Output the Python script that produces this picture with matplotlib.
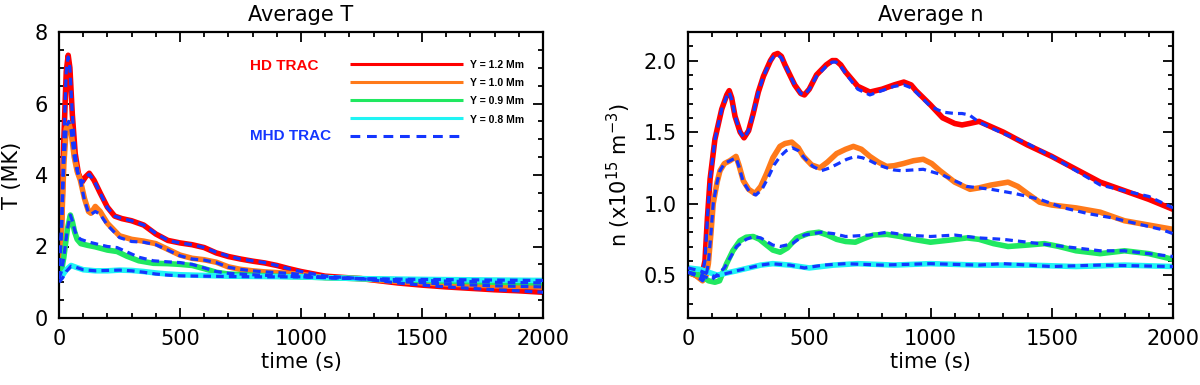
import matplotlib
matplotlib.use("Agg")
import matplotlib.pyplot as plt
from matplotlib.ticker import MultipleLocator

# ---------------- data: Average T (MK) ----------------
T_red_t = [0, 10, 20, 30, 38, 45, 55, 67, 80, 95, 110, 125, 145, 170, 200, 230, 260, 300, 350, 400, 450, 500, 550, 600, 650, 700, 750, 800, 850, 900, 950, 1000, 1100, 1250, 1400, 1500, 1600, 1700, 1800, 1900, 2000]
T_red = [1.1, 2.5, 5.0, 6.9, 7.35, 7.0, 5.7, 4.6, 4.05, 3.8, 3.95, 4.05, 3.85, 3.5, 3.1, 2.85, 2.78, 2.72, 2.6, 2.35, 2.17, 2.1, 2.05, 1.97, 1.82, 1.72, 1.65, 1.59, 1.54, 1.47, 1.38, 1.3, 1.17, 1.1, 0.98, 0.92, 0.87, 0.83, 0.79, 0.76, 0.72]
T_red_mhd = [1.1, 2.5, 5.0, 6.9, 7.3, 7.0, 5.7, 4.6, 4.0, 3.78, 3.93, 4.02, 3.85, 3.5, 3.08, 2.85, 2.78, 2.72, 2.6, 2.37, 2.17, 2.1, 2.05, 1.97, 1.84, 1.73, 1.65, 1.6, 1.55, 1.47, 1.38, 1.3, 1.17, 1.1, 0.98, 0.92, 0.87, 0.83, 0.79, 0.76, 0.72]

T_org_t = [0, 10, 20, 30, 40, 50, 63, 75, 88, 105, 122, 132, 150, 170, 200, 250, 300, 350, 400, 450, 500, 550, 600, 650, 700, 750, 800, 850, 900, 950, 1000, 1100, 1250, 1400, 1600, 1800, 2000]
T_org = [1.1, 2.4, 4.3, 5.3, 5.45, 5.2, 4.5, 4.1, 3.86, 3.35, 2.98, 2.93, 3.12, 2.98, 2.65, 2.3, 2.2, 2.15, 2.08, 1.92, 1.76, 1.67, 1.63, 1.56, 1.43, 1.36, 1.32, 1.29, 1.27, 1.25, 1.22, 1.13, 1.1, 1.02, 0.95, 0.9, 0.87]
T_org_mhd = [1.1, 2.4, 4.3, 5.35, 5.5, 5.25, 4.5, 4.1, 3.86, 3.3, 2.95, 2.9, 2.98, 2.9, 2.6, 2.25, 2.14, 2.12, 2.05, 1.9, 1.74, 1.65, 1.62, 1.55, 1.42, 1.36, 1.32, 1.29, 1.27, 1.25, 1.22, 1.13, 1.1, 1.02, 0.95, 0.9, 0.87]

T_grn_t = [0, 10, 20, 35, 47, 55, 65, 75, 90, 120, 150, 200, 240, 280, 330, 390, 450, 500, 550, 600, 650, 700, 800, 900, 1000, 1100, 1250, 1500, 1800, 2000]
T_grn = [1.1, 1.3, 1.7, 2.5, 2.88, 2.7, 2.4, 2.2, 2.08, 2.03, 1.99, 1.9, 1.86, 1.73, 1.6, 1.53, 1.52, 1.5, 1.47, 1.38, 1.28, 1.23, 1.2, 1.17, 1.15, 1.13, 1.1, 1.05, 1.0, 0.98]
T_grn_mhd = [1.1, 1.3, 1.7, 2.5, 2.88, 2.72, 2.45, 2.28, 2.2, 2.13, 2.08, 2.0, 1.97, 1.85, 1.7, 1.6, 1.57, 1.55, 1.5, 1.4, 1.3, 1.25, 1.21, 1.18, 1.15, 1.13, 1.1, 1.05, 1.0, 0.98]

T_cyn_t = [0, 15, 30, 50, 70, 100, 150, 200, 250, 300, 350, 400, 450, 500, 600, 700, 850, 1000, 1250, 1500, 2000]
T_cyn = [1.1, 1.2, 1.35, 1.47, 1.42, 1.35, 1.32, 1.32, 1.34, 1.33, 1.3, 1.26, 1.23, 1.21, 1.19, 1.17, 1.16, 1.15, 1.1, 1.08, 1.05]
T_cyn_mhd = [1.0, 1.12, 1.3, 1.45, 1.42, 1.35, 1.32, 1.33, 1.34, 1.32, 1.28, 1.23, 1.2, 1.18, 1.17, 1.16, 1.15, 1.15, 1.1, 1.08, 1.05]

# ---------------- data: Average n (1e15 m^-3) ----------------
n_red_t = [0, 30, 55, 70, 80, 91, 111, 139, 160, 170, 180, 194, 215, 231, 250, 269, 290, 311, 340, 355, 370, 385, 400, 440, 465, 480, 500, 530, 570, 595, 610, 630, 650, 700, 750, 800, 850, 890, 920, 940, 1000, 1050, 1100, 1130, 1160, 1200, 1300, 1400, 1500, 1600, 1700, 1800, 1900, 2000]
n_red = [0.52, 0.5, 0.48, 0.6, 0.9, 1.17, 1.45, 1.66, 1.76, 1.79, 1.74, 1.61, 1.5, 1.46, 1.51, 1.63, 1.78, 1.89, 2.0, 2.04, 2.05, 2.03, 1.97, 1.83, 1.77, 1.76, 1.8, 1.9, 1.97, 2.0, 2.0, 1.97, 1.92, 1.82, 1.78, 1.8, 1.83, 1.85, 1.83, 1.79, 1.69, 1.6, 1.56, 1.55, 1.56, 1.575, 1.5, 1.41, 1.33, 1.24, 1.15, 1.09, 1.03, 0.96]
n_red_mhd = [0.52, 0.5, 0.48, 0.6, 0.9, 1.17, 1.45, 1.66, 1.75, 1.78, 1.73, 1.61, 1.5, 1.46, 1.51, 1.63, 1.78, 1.89, 2.0, 2.03, 2.04, 2.02, 1.97, 1.83, 1.77, 1.76, 1.8, 1.89, 1.96, 1.99, 1.99, 1.96, 1.91, 1.8, 1.76, 1.79, 1.82, 1.83, 1.81, 1.78, 1.68, 1.64, 1.63, 1.63, 1.62, 1.57, 1.49, 1.42, 1.33, 1.23, 1.13, 1.09, 1.05, 0.97]

n_org_t = [0, 30, 60, 75, 84, 95, 104, 120, 132, 150, 173, 198, 210, 228, 250, 276, 300, 324, 350, 379, 400, 428, 455, 476, 510, 544, 575, 613, 650, 682, 715, 750, 785, 819, 850, 888, 930, 970, 1005, 1039, 1100, 1163, 1200, 1250, 1320, 1360, 1400, 1450, 1500, 1600, 1700, 1800, 1900, 2000]
n_org = [0.52, 0.5, 0.46, 0.5, 0.58, 0.8, 1.0, 1.15, 1.23, 1.28, 1.3, 1.33, 1.27, 1.16, 1.1, 1.07, 1.12, 1.21, 1.32, 1.4, 1.42, 1.43, 1.39, 1.33, 1.27, 1.25, 1.29, 1.35, 1.38, 1.4, 1.38, 1.33, 1.29, 1.26, 1.265, 1.28, 1.3, 1.31, 1.28, 1.23, 1.15, 1.1, 1.11, 1.13, 1.15, 1.12, 1.07, 1.01, 0.99, 0.97, 0.94, 0.88, 0.85, 0.82]
n_org_mhd_t = [0, 30, 60, 75, 84, 95, 104, 120, 132, 150, 173, 198, 210, 228, 255, 280, 305, 330, 355, 380, 405, 430, 455, 480, 515, 550, 585, 620, 655, 690, 720, 750, 785, 820, 850, 880, 925, 970, 1010, 1050, 1150, 1250, 1350, 1450, 1550, 1650, 1750, 1850, 1950, 2000]
n_org_mhd = [0.52, 0.5, 0.46, 0.5, 0.58, 0.8, 1.0, 1.15, 1.23, 1.28, 1.3, 1.32, 1.26, 1.15, 1.08, 1.06, 1.1, 1.18, 1.27, 1.33, 1.37, 1.39, 1.37, 1.32, 1.26, 1.23, 1.25, 1.28, 1.31, 1.33, 1.32, 1.3, 1.27, 1.25, 1.235, 1.23, 1.235, 1.24, 1.22, 1.2, 1.12, 1.1, 1.07, 1.03, 0.97, 0.93, 0.9, 0.86, 0.82, 0.79]

n_grn_t = [0, 50, 85, 111, 130, 159, 185, 214, 240, 269, 295, 324, 350, 380, 410, 448, 495, 540, 575, 613, 650, 690, 725, 764, 820, 875, 929, 1000, 1080, 1150, 1200, 1260, 1320, 1400, 1470, 1530, 1600, 1700, 1800, 1900, 2000]
n_grn = [0.52, 0.5, 0.46, 0.45, 0.46, 0.58, 0.67, 0.74, 0.765, 0.77, 0.75, 0.71, 0.675, 0.66, 0.69, 0.76, 0.79, 0.8, 0.78, 0.75, 0.735, 0.73, 0.755, 0.78, 0.785, 0.77, 0.75, 0.73, 0.745, 0.76, 0.75, 0.72, 0.7, 0.71, 0.72, 0.7, 0.67, 0.65, 0.67, 0.65, 0.61]
n_grn_mhd_t = [0, 50, 100, 150, 200, 240, 270, 300, 320, 350, 380, 430, 480, 550, 600, 650, 750, 820, 900, 1000, 1100, 1200, 1300, 1400, 1500, 1600, 1700, 1800, 1900, 2000]
n_grn_mhd = [0.52, 0.5, 0.47, 0.55, 0.7, 0.75, 0.77, 0.76, 0.74, 0.71, 0.7, 0.72, 0.78, 0.8, 0.79, 0.77, 0.78, 0.8, 0.78, 0.77, 0.78, 0.76, 0.75, 0.73, 0.71, 0.69, 0.67, 0.67, 0.65, 0.63]

n_cyn_t = [0, 50, 120, 200, 300, 350, 420, 500, 600, 700, 850, 1000, 1200, 1400, 1600, 1800, 2000]
n_cyn = [0.55, 0.54, 0.5, 0.53, 0.57, 0.58, 0.57, 0.55, 0.57, 0.58, 0.57, 0.58, 0.57, 0.57, 0.56, 0.57, 0.56]
n_cyn_mhd_t = [0, 50, 110, 200, 300, 340, 420, 480, 560, 650, 800, 1000, 1200, 1300, 1500, 1700, 2000]
n_cyn_mhd = [0.55, 0.53, 0.49, 0.53, 0.57, 0.58, 0.57, 0.55, 0.57, 0.58, 0.57, 0.58, 0.57, 0.58, 0.56, 0.57, 0.56]

heights = ["Y = 1.2 Mm", "Y = 1.0 Mm", "Y = 0.9 Mm", "Y = 0.8 Mm"]
colors = ["#ff0000", "#ff7a1a", "#20e860", "#20f4f4"]
blue = "#1436ff"

plt.rcParams['font.family'] = ['DejaVu Sans']
fig = plt.figure(figsize=(12, 3.85), dpi=100)
axT = fig.add_axes([59/1200, 67/385, 484/1200, 286/385])
axN = fig.add_axes([688/1200, 67/385, 485/1200, 286/385])

SW = 4.0
DW = 2.3
DASH = (2.4, 1.6)

T_sets = [(T_red_t, T_red, T_red_mhd), (T_org_t, T_org, T_org_mhd),
          (T_grn_t, T_grn, T_grn_mhd), (T_cyn_t, T_cyn, T_cyn_mhd)]
for (tt, hd, _), c in zip(T_sets, colors):
    axT.plot(tt, hd, color=c, lw=SW, solid_capstyle='butt', solid_joinstyle='round', zorder=2)
for (tt, _, mhd) in T_sets:
    axT.plot(tt, mhd, color=blue, lw=DW, dashes=DASH, zorder=3)

N_sets = [(n_red_t, n_red, n_red_t, n_red_mhd), (n_org_t, n_org, n_org_mhd_t, n_org_mhd),
          (n_grn_t, n_grn, n_grn_mhd_t, n_grn_mhd), (n_cyn_t, n_cyn, n_cyn_mhd_t, n_cyn_mhd)]
for (t1, hd, t2, mhd), c in zip(N_sets, colors):
    axN.plot(t1, hd, color=c, lw=SW, solid_capstyle='butt', solid_joinstyle='round', zorder=2)
for (t1, hd, t2, mhd) in N_sets:
    axN.plot(t2, mhd, color=blue, lw=DW, dashes=DASH, zorder=3)

FS = 15
for ax in (axT, axN):
    ax.set_xlim(0, 2000)
    ax.xaxis.set_major_locator(MultipleLocator(500))
    ax.xaxis.set_minor_locator(MultipleLocator(100))
    ax.tick_params(which='both', direction='in', top=True, right=True, width=1.3, labelsize=FS)
    ax.tick_params(which='major', length=7, pad=8)
    ax.tick_params(which='minor', length=3.5)
    for s in ax.spines.values():
        s.set_linewidth(1.6)
    ax.set_xlabel("time (s)", fontsize=FS, labelpad=2)

axT.set_ylim(0, 8)
axT.yaxis.set_major_locator(MultipleLocator(2))
axT.yaxis.set_minor_locator(MultipleLocator(0.5))
axT.set_ylabel("T (MK)", fontsize=FS, labelpad=9)
axT.set_title("Average T", fontsize=FS, pad=8)

axN.set_ylim(0.2, 2.2)
axN.yaxis.set_major_locator(MultipleLocator(0.5))
axN.yaxis.set_minor_locator(MultipleLocator(0.1))
axN.yaxis.set_major_formatter(matplotlib.ticker.FormatStrFormatter('%.1f'))
axN.set_ylabel(r"n (x10$^{15}$ m$^{-3}$)", fontsize=FS, labelpad=8)
axN.set_title("Average n", fontsize=FS, pad=8)

# legend (manual, in axes fraction)
lx0, lx1 = 0.601, 0.835
ys = [0.888, 0.825, 0.762, 0.699]
axT.text(0.395, 0.881, "HD TRAC", color="#ff0000", fontsize=11, fontweight='bold',
         transform=axT.transAxes, ha='left', va='center', family='Liberation Sans')
for y, c, lab in zip(ys, colors, heights):
    axT.plot([lx0, lx1], [y, y], color=c, lw=2.2, transform=axT.transAxes, solid_capstyle='butt')
    axT.text(0.849, y - 0.005, lab, fontsize=7.5, fontweight='bold', transform=axT.transAxes,
             ha='left', va='center', family='Liberation Sans')
axT.plot([lx0, lx1], [0.636, 0.636], color=blue, lw=2.2, dashes=(3.2, 2.2), transform=axT.transAxes)
axT.text(0.395, 0.636, "MHD TRAC", color=blue, fontsize=11, fontweight='bold',
         transform=axT.transAxes, ha='left', va='center', family='Liberation Sans')

fig.savefig("out.png", dpi=100)
